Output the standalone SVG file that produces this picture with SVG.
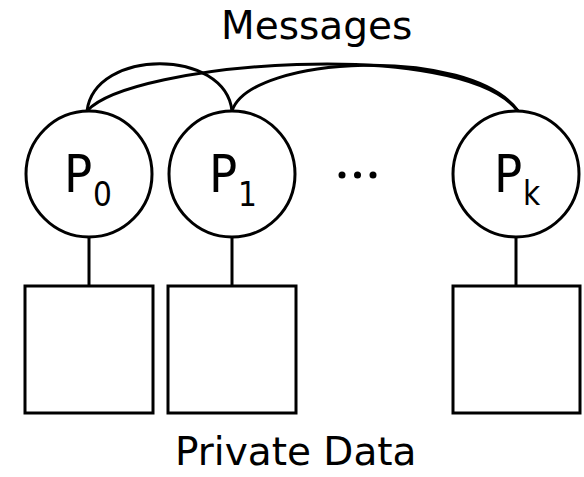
<svg xmlns="http://www.w3.org/2000/svg" width="584" height="477" viewBox="0 0 584 477">
  <style>
    .shape { fill: #ffffff; stroke: #000000; stroke-width: 3; }
    .link { fill: none; stroke: #000000; stroke-width: 3; }
    .label { font-family: "DejaVu Sans Condensed", "DejaVu Sans", sans-serif; fill: #000000; }
    .big { font-family: "DejaVu Sans", sans-serif; font-size: 39px; }
    .proc { font-size: 52px; }
    .sub { font-size: 33px; }
  </style>
  <rect width="584" height="477" fill="#ffffff"/>

  <!-- message channels between processes, and process-to-data links -->
  <g id="connectors">
    <path class="link" d="M87,111 C95,48 225,48 232,111"/>
    <path class="link" d="M87,111 C130,62 460,36 518,111"/>
    <path class="link" d="M232,111 C250,55 470,45 518,111"/>
    <line class="link" x1="89" y1="237" x2="89" y2="286"/>
    <line class="link" x1="232" y1="237" x2="232" y2="286"/>
    <line class="link" x1="516" y1="237" x2="516" y2="286"/>
  </g>

  <text class="label big" x="221" y="39">Messages</text>

  <g id="p0">
    <circle class="shape" cx="89" cy="174" r="63"/>
    <text class="label proc" x="64" y="192">P<tspan class="sub" x="93" y="206">0</tspan></text>
  </g>
  <g id="p1">
    <circle class="shape" cx="232" cy="174" r="63"/>
    <text class="label proc" x="209" y="192">P<tspan class="sub" x="238" y="206">1</tspan></text>
  </g>
  <g id="ellipsis">
    <circle cx="342" cy="175" r="3.5"/>
    <circle cx="357.5" cy="175" r="3.5"/>
    <circle cx="373" cy="175" r="3.5"/>
  </g>
  <g id="pk">
    <circle class="shape" cx="516" cy="174" r="63"/>
    <text class="label proc" x="494" y="192">P<tspan class="sub" x="523" y="205">k</tspan></text>
  </g>

  <g id="d0"><rect class="shape" x="25" y="286" width="128" height="127"/></g>
  <g id="d1"><rect class="shape" x="168" y="286" width="128" height="127"/></g>
  <g id="dk"><rect class="shape" x="453" y="286" width="127" height="127"/></g>

  <text class="label big" x="175" y="465">Private Data</text>
</svg>
